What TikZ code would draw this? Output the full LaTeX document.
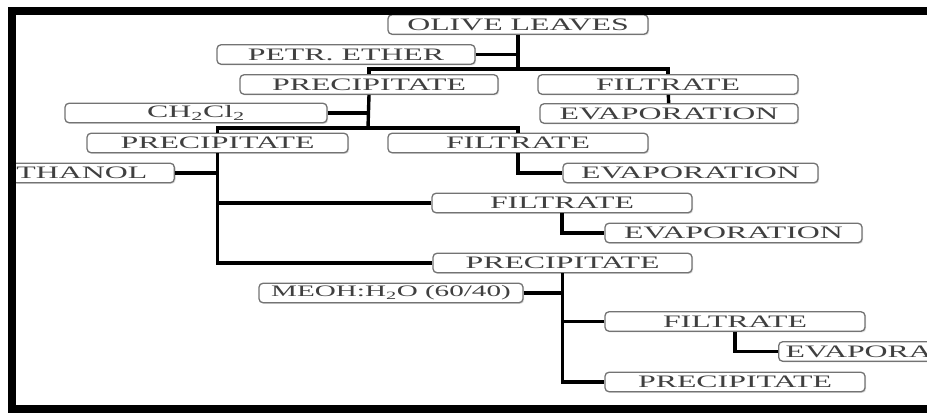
\documentclass[tikz,border=0pt]{standalone}
\usepackage{fontspec}
\setmainfont{Liberation Serif}[FakeStretch=1.82]
\usetikzlibrary{positioning, calc, shadows}
\newcommand{\boxfont}{\fontsize{17.5}{19}\selectfont}
\tikzset{
  fl box/.style={
    rectangle, rounded corners=4pt, draw=black!55, line width=1.3pt,
    fill=white, text=black!75,
    minimum width=258pt, minimum height=19.5pt,
    inner xsep=2pt, inner ysep=1pt, font=\boxfont,
    drop shadow={shadow xshift=1.2pt, shadow yshift=-1.2pt, fill=black!25, opacity=.5}
  },
  fl line/.style={
    draw=black, line width=3.4pt
  },
  fl frame/.style={
    draw=black, line width=8pt
  }
}

\begin{document}
\begin{tikzpicture}[x=1pt, y=-1pt]
  \useasboundingbox (0,0) rectangle (927,415);
  \begin{scope}
  \clip (12,11) rectangle (927,409);

  % petroleum ether step
  \node (leaves) [fl box, minimum width=260pt] at (518,24.5) {OLIVE LEAVES};
  \node (petr)   [fl box] at (346,54.5) {PETR. ETHER};
  \node (prec1)  [fl box] at (369,84.5) {PRECIPITATE};
  \node (filt1)  [fl box, minimum width=260pt] at (668,84.5) {FILTRATE};
  \node (evap1)  [fl box] at (669,113.5) {EVAPORATION};

  % dichloromethane step
  \node (chcl)   [fl box, minimum width=262pt] at (196,113) {CH\textsubscript{2}Cl\textsubscript{2}};
  \node (prec2)  [fl box, minimum width=261pt] at (217.5,143) {PRECIPITATE};
  \node (filt2)  [fl box, minimum width=260pt] at (518,143) {FILTRATE};
  \node (evap2)  [fl box, minimum width=255pt] at (690.5,173) {EVAPORATION};

  % ethanol step
  \node (ethanol) [fl box, anchor=east, minimum width=162pt, text width=154pt, align=left] at (175,173) {THANOL};
  \node (filt3)  [fl box, minimum width=260pt] at (562,203) {FILTRATE};
  \node (evap3)  [fl box, minimum width=257pt] at (733.5,233) {EVAPORATION};
  \node (prec3)  [fl box, minimum width=259pt] at (562.5,263) {PRECIPITATE};

  % methanol/water step
  \node (meoh)   [fl box, minimum width=264pt, font=\fontsize{16}{18}\selectfont] at (391,293) {MEOH:H\textsubscript{2}O (60/40)};
  \node (filt4)  [fl box, minimum width=260pt] at (735,321.5) {FILTRATE};
  \node (evap4)  [fl box, anchor=west, inner xsep=7pt, text width=244pt, align=left] at (778,351.5) {EVAPORA};
  \node (prec4)  [fl box, minimum width=260pt] at (735,382) {PRECIPITATE};

  \coordinate (j1) at (518,69);
  \coordinate (j2) at (368,128);

  \draw [fl line] (leaves) -- (j1);
  \draw [fl line] (petr) -- (petr -| j1);
  \draw [fl line] (prec1.north) |- (filt1.north |- j1) -- (filt1.north);
  \draw [fl line] (filt1) -- (evap1);

  \draw [fl line] (prec1.south) -- (j2);
  \draw [fl line] (chcl) -- (chcl -| j2);
  \draw [fl line] (prec2.north) |- (filt2.north |- j2) -- (filt2.north);
  \draw [fl line] (filt2.south) |- (evap2.west);

  \draw [fl line] (prec2.south) |- (prec3.west);
  \draw [fl line] (ethanol) -- (ethanol -| prec2.south);
  \draw [fl line] (filt3.west) -- (filt3.west -| prec2.south);
  \draw [fl line] (filt3.south) |- (evap3.west);

  \draw [fl line] (prec3.south) |- (prec4.west);
  \draw [fl line] (meoh) -- (meoh -| prec3.south);
  \draw [fl line] (filt4.west) -- (filt4.west -| prec3.south);
  \draw [fl line] (filt4.south) |- (evap4.west);
  \end{scope}

  \draw [fl frame] (927,11) -- (12,11) -- (12,409) -- (927,409);
\end{tikzpicture}
\end{document}
